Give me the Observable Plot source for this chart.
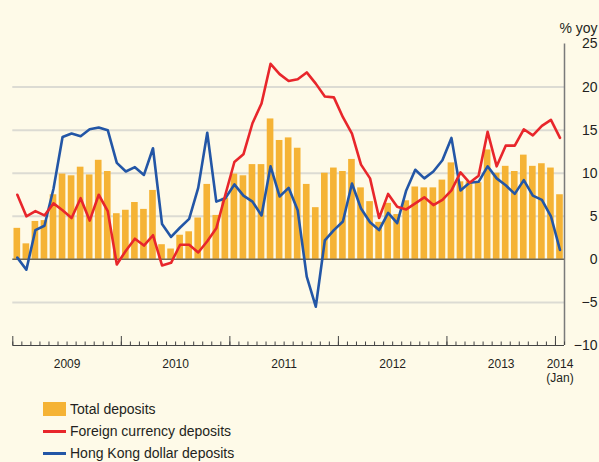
<!DOCTYPE html>
<html><head><meta charset="utf-8">
<script src="https://cdn.jsdelivr.net/npm/d3@7"></script>
<script src="https://cdn.jsdelivr.net/npm/@observablehq/plot@0.6"></script>
<style>
body{margin:0;background:#fefae8;font-family:"Liberation Sans",Arial,sans-serif;color:#231f20;}
#wrap{width:599px;}
#legend{margin-left:43px;padding-top:13px;font-size:14px;}
.row{display:flex;align-items:center;height:22px;}
.sw{width:23px;margin-right:4px;display:inline-block;}
</style></head><body><div id="wrap"><div id="chart"></div>
<div id="legend">
<div class="row"><span class="sw" style="height:14px;background:#f5b335"></span>Total deposits</div>
<div class="row"><span class="sw" style="height:3px;background:#e8262b"></span>Foreign currency deposits</div>
<div class="row"><span class="sw" style="height:3px;background:#2356a6"></span>Hong Kong dollar deposits</div>
</div></div>
<script>
// Monthly, Jan 2009 – Jan 2014, % yoy
const total = [3.6,1.8,4.4,4.5,7.5,9.9,9.7,10.7,9.8,11.5,10.2,5.3,
  5.7,6.6,5.8,8.0,1.7,1.2,2.8,3.2,4.8,8.7,5.1,7.1,
  9.9,9.7,11.0,11.0,16.3,13.8,14.1,12.9,8.7,6.0,10.0,10.6,
  10.2,11.6,8.3,6.7,4.3,6.5,5.2,6.8,8.4,8.3,8.3,9.2,
  11.2,9.0,9.0,8.9,12.7,10.0,10.8,10.2,12.1,10.8,11.1,10.6,
  7.5];
const foreign = [7.5,5.0,5.6,5.1,6.5,5.7,4.8,7.1,4.5,7.5,5.6,-0.6,
  1.0,2.4,1.6,2.8,-0.7,-0.4,1.7,1.7,0.8,2.1,3.6,7.5,
  11.3,12.2,15.8,18.1,22.7,21.5,20.7,20.9,21.7,20.4,18.9,18.8,
  16.5,14.6,11.0,9.4,4.8,7.6,6.1,5.8,6.5,7.2,6.3,6.9,
  8.0,10.1,8.9,9.7,14.8,10.8,13.2,13.2,15.1,14.4,15.5,16.2,
  14.1];
const hkd = [0.2,-1.2,3.4,3.9,8.2,14.2,14.6,14.3,15.1,15.3,15.0,11.2,
  10.2,10.7,9.8,12.9,4.1,2.6,3.7,4.7,8.3,14.7,6.7,7.1,
  8.7,7.4,6.7,5.1,10.8,7.3,8.3,5.7,-2.0,-5.5,2.2,3.4,
  4.4,8.8,5.9,4.3,3.4,5.4,4.2,8.0,10.4,9.4,10.2,11.5,
  14.1,8.0,8.9,9.0,10.8,9.4,8.6,7.6,9.2,7.4,6.9,5.0,
  1.1];
const yearLabels = ["2009","2010","2011","2012","2013","2014\n(Jan)"];
const yTicks = [-10,-5,0,5,10,15,20,25];
const gridTicks = [-5,5,10,15,20];

const data = total.map((t,i)=>({i, total:t, foreign:foreign[i], hkd:hkd[i]}));
const n = data.length;
const labelData = yearLabels.map((l,k)=>({label:l, x: k < yearLabels.length-1 ? 12*k+6 : n-0.5}));

const chart = Plot.plot({
  width:599, height:385,
  marginLeft:12.3, marginRight:35, marginTop:43.5, marginBottom:40,
  style:{background:"transparent", fontFamily:"'Liberation Sans', Arial, sans-serif", color:"#231f20"},
  x:{domain:[0,n], axis:null, label:null},
  y:{domain:[-10,25], axis:null, label:null},
  marks:[
    Plot.ruleY(gridTicks, {stroke:"#dcdbd3", strokeWidth:2}),
    Plot.rectY(data, {x1:"i", x2:d=>d.i+1, y:"total", fill:"#f5b335", insetLeft:1.2, insetRight:1.2}),
    Plot.ruleY([0], {stroke:"#6e6651", strokeWidth:1.5}),
    Plot.lineY(data, {x:d=>d.i+0.5, y:"hkd", stroke:"#2356a6", strokeWidth:2.6}),
    Plot.lineY(data, {x:d=>d.i+0.5, y:"foreign", stroke:"#e8262b", strokeWidth:2.6}),
    Plot.ruleX([n], {stroke:"#7a7a7a", strokeWidth:1.5}),
    Plot.ruleY([-10], {stroke:"#444", strokeWidth:1.2}),
    Plot.axisX(d3.range(0,n+1), {tickSize:-3.5, tickFormat:()=>"", stroke:"#444", label:null}),
    Plot.axisX(d3.range(0,n+1,12), {tickSize:-9, tickFormat:()=>"", stroke:"#444", label:null}),
    Plot.text(labelData, {x:"x", y:()=>-10, text:"label", dy:12, lineAnchor:"top", fontSize:12, lineHeight:1.2, fill:"#231f20"}),
    Plot.axisY(yTicks, {anchor:"right", tickSize:0, tickPadding:33, textAnchor:"end", fontSize:14, label:null, fill:"#231f20"}),
    Plot.text(["% yoy"], {frameAnchor:"top-right", dx:33, dy:-21, textAnchor:"end", fontSize:14, fill:"#231f20"})
  ]
});
document.getElementById("chart").appendChild(chart);
</script></body></html>
